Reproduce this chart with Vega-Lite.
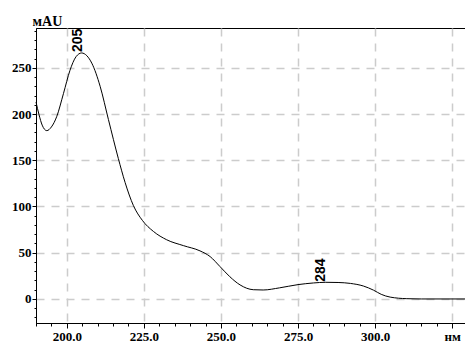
{
  "$schema": "https://vega.github.io/schema/vega-lite/v6.json",
  "width": 430,
  "height": 295,
  "autosize": "none",
  "padding": {"left": 36, "top": 28, "right": 0, "bottom": 20},
  "background": "white",
  "config": {"view": {"stroke": "black", "strokeWidth": 1}},
  "data": {"values": [
    {"nm": 190, "val": 213},
    {"nm": 191, "val": 199},
    {"nm": 192, "val": 188},
    {"nm": 193.5, "val": 182},
    {"nm": 195, "val": 186},
    {"nm": 196.7, "val": 197},
    {"nm": 198.9, "val": 222},
    {"nm": 201, "val": 247},
    {"nm": 203, "val": 262},
    {"nm": 204.8, "val": 266},
    {"nm": 206.5, "val": 263},
    {"nm": 208.1, "val": 255},
    {"nm": 210.8, "val": 230},
    {"nm": 213.5, "val": 194},
    {"nm": 216.7, "val": 152},
    {"nm": 218.9, "val": 126},
    {"nm": 221.6, "val": 101},
    {"nm": 224.5, "val": 85},
    {"nm": 228.1, "val": 73},
    {"nm": 232.4, "val": 64},
    {"nm": 237.8, "val": 57.7},
    {"nm": 243.2, "val": 52},
    {"nm": 246.5, "val": 45.8},
    {"nm": 249.7, "val": 35},
    {"nm": 252.9, "val": 24},
    {"nm": 256.2, "val": 15.2},
    {"nm": 260.5, "val": 10},
    {"nm": 263.7, "val": 9.7},
    {"nm": 269, "val": 12},
    {"nm": 275, "val": 15.5},
    {"nm": 280, "val": 17.3},
    {"nm": 284, "val": 18},
    {"nm": 288, "val": 17.8},
    {"nm": 292, "val": 16.8},
    {"nm": 296.2, "val": 14},
    {"nm": 299.5, "val": 9.5},
    {"nm": 302, "val": 5},
    {"nm": 304.9, "val": 2},
    {"nm": 310.3, "val": 0.3},
    {"nm": 315, "val": 0},
    {"nm": 329.5, "val": 0}
  ]},
  "layer": [
    {
      "mark": {"type": "line", "interpolate": "monotone", "color": "black", "strokeWidth": 1},
      "encoding": {
        "x": {
          "field": "nm", "type": "quantitative",
          "scale": {"domain": [190, 329.5], "nice": false, "zero": false},
          "axis": {
            "orient": "bottom",
            "values": [200, 225, 250, 275, 300, 325],
            "labelExpr": "datum.value == 325 ? 'нм' : format(datum.value, '.1f')",
            "title": null,
            "labelFont": "Liberation Serif", "labelFontWeight": "bold", "labelFontSize": 13, "labelColor": "black",
            "labelPadding": 2, "labelFlush": false, "labelOverlap": false,
            "tickSize": 5, "tickColor": "black", "tickWidth": 1,
            "domain": true, "domainColor": "black", "domainWidth": 1,
            "grid": true, "gridColor": "#cccccc", "gridDash": [8, 7], "gridWidth": 1.5
          }
        },
        "y": {
          "field": "val", "type": "quantitative",
          "scale": {"domain": [-26, 293], "nice": false, "zero": false},
          "axis": {
            "orient": "left",
            "values": [0, 50, 100, 150, 200, 250],
            "title": "мAU",
            "titleAngle": 0, "titleAlign": "left", "titleBaseline": "alphabetic",
            "titleX": -4, "titleY": -3,
            "titleFont": "Liberation Serif", "titleFontWeight": "bold", "titleFontSize": 14, "titleColor": "black",
            "labelFont": "Liberation Serif", "labelFontWeight": "bold", "labelFontSize": 13, "labelColor": "black",
            "labelPadding": 1,
            "tickSize": 4, "tickColor": "black", "tickWidth": 1,
            "domain": true, "domainColor": "black", "domainWidth": 1,
            "grid": true, "gridColor": "#cccccc", "gridDash": [8, 7], "gridWidth": 1.5
          }
        }
      }
    },
    {
      "mark": {"type": "line", "opacity": 0},
      "encoding": {
        "x": {
          "field": "nm", "type": "quantitative",
          "axis": {
            "orient": "bottom",
            "values": [190, 195, 205, 210, 215, 220, 230, 235, 240, 245, 255, 260, 265, 270, 280, 285, 290, 295, 305, 310, 315, 320],
            "labels": false, "title": null, "domain": false, "grid": false,
            "tickSize": 3, "tickColor": "black", "tickWidth": 1
          }
        },
        "y": {
          "field": "val", "type": "quantitative",
          "axis": {
            "orient": "left",
            "values": [-20, -10, 10, 20, 30, 40, 60, 70, 80, 90, 110, 120, 130, 140, 160, 170, 180, 190, 210, 220, 230, 240, 260, 270, 280, 290],
            "labels": false, "title": null, "domain": false, "grid": false,
            "tickSize": 2, "tickColor": "black", "tickWidth": 1
          }
        }
      }
    },
    {
      "data": {"values": [
        {"nm": 205, "val": 267, "lab": "205"},
        {"nm": 283.8, "val": 18.5, "lab": "284"}
      ]},
      "mark": {"type": "text", "angle": 270, "align": "left", "baseline": "alphabetic", "font": "Liberation Sans", "fontWeight": "bold", "fontSize": 14, "color": "black"},
      "encoding": {
        "x": {"field": "nm", "type": "quantitative", "axis": null},
        "y": {"field": "val", "type": "quantitative", "axis": null},
        "text": {"field": "lab"}
      }
    }
  ],
  "resolve": {"axis": {"x": "independent", "y": "independent"}}
}
